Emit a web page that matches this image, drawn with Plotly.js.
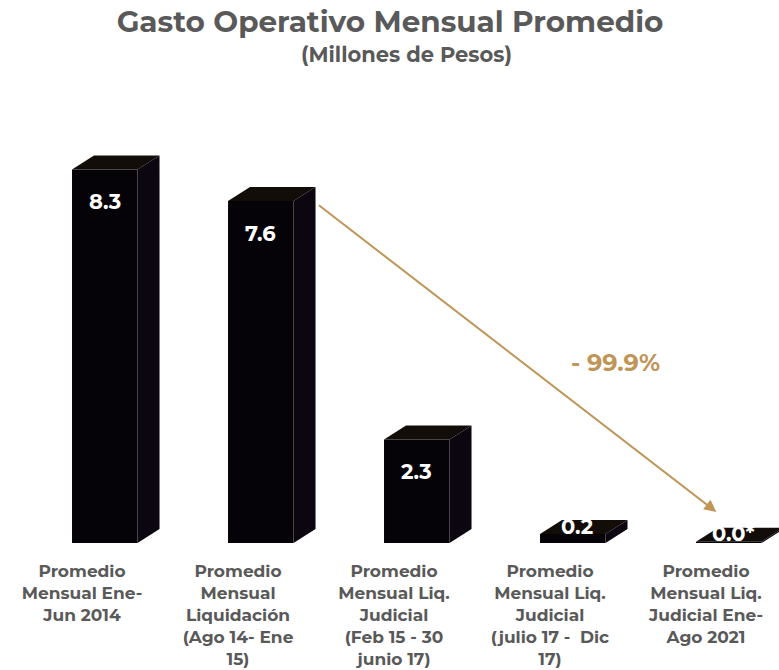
<!DOCTYPE html>
<html>
<head>
<meta charset="utf-8">
<script src="https://cdn.plot.ly/plotly-3.0.1.min.js"></script>
<style>html,body{margin:0;padding:0;background:#fff;}#chart{width:779px;height:670px;}</style>
</head>
<body>
<div id="chart"></div>
<script>
// ---- Data ----
const categories = [
  "Promedio<br>Mensual Ene-<br>Jun 2014",
  "Promedio<br>Mensual<br>Liquidación<br>(Ago 14- Ene<br>15)",
  "Promedio<br>Mensual Liq.<br>Judicial<br>(Feb 15 - 30<br>junio 17)",
  "Promedio<br>Mensual Liq.<br>Judicial<br>(julio 17 -  Dic<br>17)",
  "Promedio<br>Mensual Liq.<br>Judicial Ene-<br>Ago 2021"
];
const values = [8.3, 7.6, 2.3, 0.2, 0.03];
const valueLabels = ["8.3", "7.6", "2.3", "0.2", "0.0*"];
const changeLabel = "- 99.9%";

// ---- Styling / geometry ----
const pos = categories.map((_, i) => i);
const barOffset = -0.064, barWidth = 0.42;
const depthX = 0.141, depthY = 0.311;
const gray = "#595959", gold = "#BF9558";
const font = "Montserrat, 'Noto Sans', 'Open Sans', sans-serif";

const traces = [];
// front faces
traces.push({
  type: "bar", x: pos, y: values, offset: barOffset, width: barWidth,
  marker: {color: "#050308", line: {width: 0}}, hoverinfo: "skip", showlegend: false
});
// top & side faces
values.forEach((v, i) => {
  const xl = pos[i] + barOffset, xr = xl + barWidth;
  traces.push({
    type: "scatter", mode: "lines", fill: "toself", fillcolor: "#120d09",
    line: {width: 0, color: "#120d09"}, hoverinfo: "skip", showlegend: false,
    x: [xl, xr, xr + depthX, xl + depthX, xl],
    y: [v, v, v + depthY, v + depthY, v]
  });
  traces.push({
    type: "scatter", mode: "lines", fill: "toself", fillcolor: "#0b0610",
    line: {width: 0, color: "#0b0610"}, hoverinfo: "skip", showlegend: false,
    x: [xr, xr, xr + depthX, xr + depthX, xr],
    y: [0, v, v + depthY, depthY, 0]
  });
});

const marginT = 100, marginB = 127;
const plotH = 670 - marginT - marginB;

const annotations = values.map((v, i) => ({
  x: pos[i] + barOffset + barWidth / 2 + (v < 1 ? 0.03 : 0), y: v, xref: "x", yref: "y",
  text: "<b>" + valueLabels[i] + "</b>", showarrow: false,
  xanchor: "center", yanchor: "middle", yshift: v < 1 ? 8 : -32,
  font: {family: font, size: 21, color: "#ffffff"}
}));
// arrow from bar 2 to bar 5
annotations.push({
  x: pos[4] + barOffset + 0.13, y: values[4] + 0.66, xref: "x", yref: "y",
  ax: pos[1] + barOffset + barWidth + depthX + 0.012, ay: values[1] - 0.07,
  axref: "x", ayref: "y", text: "", showarrow: true,
  arrowhead: 2, arrowsize: 1.2, arrowwidth: 2, arrowcolor: gold
});
annotations.push({
  x: 615 / 779, y: (670 - marginB - 362) / plotH, xref: "paper", yref: "paper",
  xanchor: "center", yanchor: "middle",
  text: "<b>" + changeLabel + "</b>",
  showarrow: false, font: {family: font, size: 24, color: gold}
});
// subtitle
annotations.push({
  x: 407 / 779, y: (670 - marginB - 55) / plotH, xref: "paper", yref: "paper",
  xanchor: "center", yanchor: "middle",
  text: "<b>(Millones de Pesos)</b>", showarrow: false,
  font: {family: font, size: 21, color: gray}
});

const layout = {
  width: 779, height: 670,
  margin: {l: 0, r: 0, t: marginT, b: marginB},
  paper_bgcolor: "#ffffff", plot_bgcolor: "#ffffff",
  title: {
    text: "<b>Gasto Operativo Mensual Promedio</b>",
    x: 390 / 779, xanchor: "center", y: 1 - 22 / 670, yanchor: "middle",
    font: {family: font, size: 29.5, color: gray}
  },
  xaxis: {
    range: [-82 / 156, (779 - 82) / 156],
    tickvals: pos, ticktext: categories.map(c => "<b>" + c + "</b>"),
    showgrid: false, zeroline: false, showline: false, ticks: "",
    ticklabelstandoff: 16,
    tickfont: {family: font, size: 17, color: gray}
  },
  yaxis: {
    range: [0, plotH / 45], visible: false, showgrid: false, zeroline: false, fixedrange: true
  },
  annotations: annotations,
  showlegend: false
};
Plotly.newPlot("chart", traces, layout, {displayModeBar: false, staticPlot: true});
</script>
</body>
</html>
